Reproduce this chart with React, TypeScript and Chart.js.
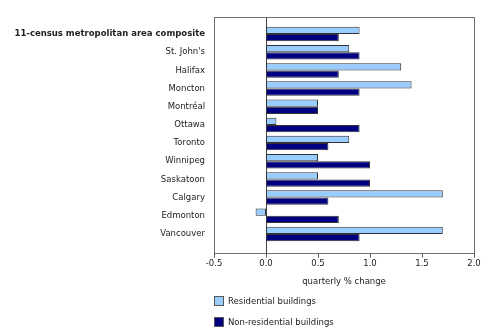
import React, { useEffect, useRef } from 'react';
import { Chart, registerables } from 'chart.js';

Chart.register(...registerables);

const categories = [
  '11-census metropolitan area composite',
  "St. John's",
  'Halifax',
  'Moncton',
  'Montréal',
  'Ottawa',
  'Toronto',
  'Winnipeg',
  'Saskatoon',
  'Calgary',
  'Edmonton',
  'Vancouver',
];
const residential = [0.9, 0.8, 1.3, 1.4, 0.5, 0.1, 0.8, 0.5, 0.5, 1.7, -0.1, 1.7];
const nonResidential = [0.7, 0.9, 0.7, 0.9, 0.5, 0.9, 0.6, 1.0, 1.0, 0.6, 0.7, 0.9];
const seriesNames = ['Residential buildings', 'Non-residential buildings'];
const xMin = -0.5;
const xMax = 2.0;
const xStep = 0.5;
const axisTitle = 'quarterly % change';

const COLORS = ['#99CCFF', '#000080'];
const FONT = "'DejaVu Sans', Verdana, sans-serif";
const FS = 8.5;

const framePlugin = {
  id: 'frame',
  beforeDatasetsDraw(chart: any) {
    const { ctx, chartArea, scales } = chart;
    const top = chartArea.top - 8;
    const bottom = chartArea.bottom + 10;
    ctx.save();
    ctx.strokeStyle = '#707070';
    ctx.lineWidth = 1;
    ctx.strokeRect(Math.round(chartArea.left) + 0.5, Math.round(top) + 0.5, Math.round(chartArea.right - chartArea.left), Math.round(bottom - top));
    ctx.strokeStyle = '#555555';
    scales.x.ticks.forEach((t: any) => {
      const x = Math.round(scales.x.getPixelForValue(t.value)) + 0.5;
      ctx.beginPath();
      ctx.moveTo(x, Math.round(bottom) + 0.5);
      ctx.lineTo(x, Math.round(bottom) + 4.5);
      ctx.stroke();
    });
    const zx = Math.round(scales.x.getPixelForValue(0)) + 0.5;
    ctx.strokeStyle = '#444444';
    ctx.beginPath();
    ctx.moveTo(zx, Math.round(top) + 0.5);
    ctx.lineTo(zx, Math.round(bottom) + 0.5);
    ctx.stroke();
    ctx.restore();
  },
};

export default function App() {
  const ref = useRef<HTMLCanvasElement | null>(null);

  useEffect(() => {
    if (!ref.current) return;
    const chart = new Chart(ref.current, {
      type: 'bar',
      data: {
        labels: categories,
        datasets: [
          {
            label: seriesNames[0],
            data: residential,
            backgroundColor: COLORS[0],
            borderColor: '#333333',
            borderWidth: 1,
            borderSkipped: false,
            categoryPercentage: 0.8,
            barPercentage: 1,
          },
          {
            label: seriesNames[1],
            data: nonResidential,
            backgroundColor: COLORS[1],
            borderColor: '#333333',
            borderWidth: 1,
            borderSkipped: false,
            categoryPercentage: 0.8,
            barPercentage: 1,
          },
        ],
      },
      options: {
        indexAxis: 'y',
        responsive: false,
        animation: false,
        layout: { padding: { top: 25, right: 26, bottom: 45, left: 0 } },
        plugins: {
          legend: { display: false },
          tooltip: { enabled: false },
        },
        scales: {
          x: {
            min: xMin,
            max: xMax,
            border: { display: false },
            grid: { display: false, drawTicks: false },
            ticks: {
              stepSize: xStep,
              padding: 16,
              color: '#222222',
              font: { family: FONT, size: FS },
              callback: (v: any) => Number(v).toFixed(1),
            },
            title: {
              display: true,
              text: axisTitle,
              color: '#222222',
              font: { family: FONT, size: FS },
              padding: { top: 0, bottom: 0 },
            },
            afterFit: (s: any) => {
              s.height = 44;
            },
          },
          y: {
            border: { display: false },
            grid: { display: false, drawTicks: false },
            ticks: {
              padding: 9,
              color: '#222222',
              font: (c: any) => ({ family: FONT, size: FS, weight: c.index === 0 ? 'bold' : 'normal' }),
            },
            afterFit: (s: any) => {
              s.width = 214;
            },
          },
        },
      },
      plugins: [framePlugin],
    } as any);
    return () => chart.destroy();
  }, []);

  const legendItem = (i: number, top: number) => (
    <div
      key={i}
      style={{
        position: 'absolute',
        left: 214,
        top,
        display: 'flex',
        alignItems: 'center',
        font: `${FS}px ${FONT}`,
        color: '#222222',
        whiteSpace: 'nowrap',
      }}
    >
      <span
        style={{
          display: 'inline-block',
          width: 8,
          height: 8,
          background: COLORS[i],
          border: '1px solid #555555',
          marginRight: 4,
        }}
      />
      {seriesNames[i]}
    </div>
  );

  return (
    <div style={{ position: 'absolute', left: 0, top: 0, width: 500, height: 332, background: '#ffffff' }}>
      <canvas ref={ref} width={500} height={332} style={{ display: 'block' }} />
      {legendItem(0, 296)}
      {legendItem(1, 317)}
    </div>
  );
}
